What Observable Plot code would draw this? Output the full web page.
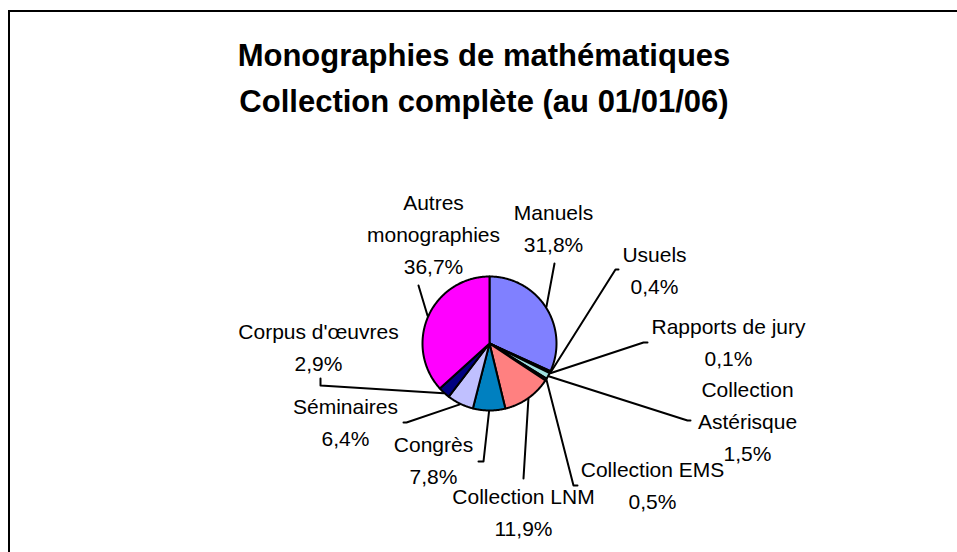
<!DOCTYPE html>
<html><head><meta charset="utf-8">
<script src="https://cdn.jsdelivr.net/npm/d3@7"></script>
<script src="https://cdn.jsdelivr.net/npm/@observablehq/plot@0.6"></script>
<style>
body{margin:0;background:#fff;width:957px;height:552px;overflow:hidden;position:relative;}
#frame{position:absolute;left:8px;top:10px;width:1000px;height:600px;border:2px solid #000;box-sizing:border-box;}
#title{position:absolute;left:0;top:33px;width:968px;text-align:center;font:bold 31px "Liberation Sans",Arial,sans-serif;line-height:46px;color:#000;}
#chart{position:absolute;left:0;top:140px;}
#chart svg{background:transparent;overflow:visible;}
</style></head>
<body>
<div id="frame"></div>
<div id="title">Monographies de mathématiques<br>Collection complète (au 01/01/06)</div>
<div id="chart"></div>
<script>
// ---- data ----
const categories = ["Manuels","Usuels","Rapports de jury","Collection Astérisque","Collection EMS","Collection LNM","Congrès","Séminaires","Corpus d'œuvres","Autres monographies"];
const values = [31.8, 0.4, 0.1, 1.5, 0.5, 11.9, 7.8, 6.4, 2.9, 36.7];
const labelLines = [["Manuels"],["Usuels"],["Rapports de jury"],["Collection","Astérisque"],["Collection EMS"],["Collection LNM"],["Congrès"],["Séminaires"],["Corpus d'œuvres"],["Autres","monographies"]];
const colors = ["#8080FF","#802060","#FFFFC0","#A0E0E0","#600080","#FF8080","#0080C0","#C0C0FF","#000080","#FF00FF"];

// ---- layout (offsets from pie centre, px) ----
const R = 67;
const labelPos = [[64,-130],[165,-88],[239,-16],[258,47],[163,127],[34,154],[-56,102],[-144,64],[-171,-11],[-56,-140]];
const leaderBends = [[[65,-80]],[[126,-74],[129,-74]],[[154,-1],[158,-1]],[[198,77],[201,77]],[[84,142],[88,142]],[[34,135]],[[-6,118],[-11,118]],[[-83,79],[-86,79]],[[-169,42],[-169,35]],[[-71,-58]]];
const lineStep = 32;

// ---- build ----
const total = d3.sum(values);
let acc = 0;
const slices = values.map((v, i) => {
  const a0 = acc / total * 2 * Math.PI; acc += v;
  const a1 = acc / total * 2 * Math.PI;
  return {i, a0, a1, mid: (a0 + a1) / 2};
});
const pieRows = slices.flatMap(s => {
  const pts = [{cat: categories[s.i], x: 0, y: 0}];
  const n = Math.max(2, Math.ceil((s.a1 - s.a0) / (Math.PI / 360)));
  for (let k = 0; k <= n; k++) {
    const a = s.a0 + (s.a1 - s.a0) * k / n;
    pts.push({cat: categories[s.i], x: R * Math.sin(a), y: -R * Math.cos(a)});
  }
  return pts;
});
const leaderRows = slices.flatMap(s => {
  const r = R * 1.01;
  const pts = [{k: s.i, x: r * Math.sin(s.mid), y: -r * Math.cos(s.mid)}];
  leaderBends[s.i].forEach(p => pts.push({k: s.i, x: p[0], y: p[1]}));
  return pts;
});
const fmt = v => v.toFixed(1).replace(".", ",") + "%";
const textRows = categories.flatMap((c, i) => {
  const lines = [...labelLines[i], fmt(values[i])];
  return lines.map((t, k) => ({text: t, x: labelPos[i][0], y: labelPos[i][1] + k * lineStep}));
});

const chart = Plot.plot({
  width: 957, height: 412, margin: 0,
  x: {domain: [-489, 468], range: [0, 957], axis: null},
  y: {domain: [-203, 209], range: [0, 412], axis: null},
  color: {domain: categories, range: colors},
  style: {background: "transparent", overflow: "visible"},
  marks: [
    Plot.line(leaderRows, {x: "x", y: "y", z: "k", stroke: "#000", strokeWidth: 2}),
    Plot.line(pieRows, {x: "x", y: "y", z: "cat", fill: "cat", stroke: "#000", strokeWidth: 2, curve: "linear-closed", strokeLinejoin: "round"}),
    Plot.text(textRows, {x: "x", y: "y", text: "text", fontSize: 21, fontFamily: "Liberation Sans, Arial, sans-serif", fill: "#000", textAnchor: "middle", lineAnchor: "middle"})
  ]
});
document.getElementById("chart").appendChild(chart);
</script>
</body></html>
